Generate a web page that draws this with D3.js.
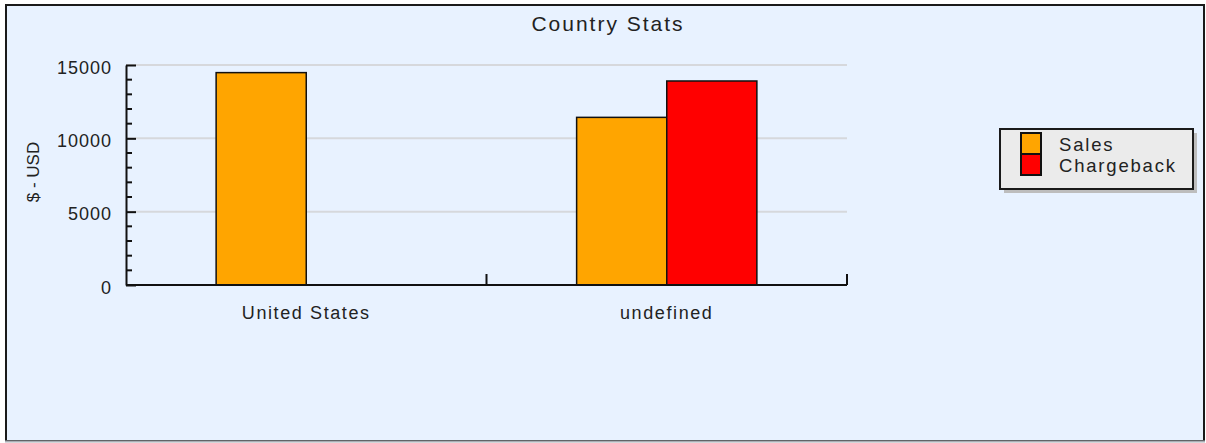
<!DOCTYPE html>
<meta charset="utf-8">
<style>
  body { margin: 0; background: #fff; }
  text { font-family: "Liberation Sans", Arial, sans-serif; fill: #222; }
</style>
<svg width="1206" height="443"></svg>
<script src="https://cdn.jsdelivr.net/npm/d3@7/dist/d3.min.js"></script>
<script>
var categories = ["United States", "undefined"];
var seriesNames = ["Sales", "Chargeback"];
var seriesColors = ["#ffa500", "#ff0000"];
var sales = [14480, 11430];
var chargeback = [0, 13910];
var yTicks = [0, 5000, 10000, 15000];

var svg = d3.select("svg");

// frame
svg.append("rect")
  .attr("x", 6).attr("y", 5).attr("width", 1198).attr("height", 436)
  .attr("fill", "#e8f2ff").attr("stroke", "#1a1a1a").attr("stroke-width", 2);
svg.append("line")
  .attr("x1", 5).attr("x2", 1205).attr("y1", 441.5).attr("y2", 441.5)
  .attr("stroke", "#a9adb4").attr("stroke-width", 2);

var margin = {left: 126, top: 65},
    width = 721, height = 220;

var g = svg.append("g").attr("transform", "translate(" + margin.left + "," + margin.top + ")");

var x = d3.scaleBand().domain(categories).range([0, width]).padding(0);
var x1 = d3.scaleBand().domain(seriesNames).range([x.bandwidth() / 4, x.bandwidth() * 3 / 4]);
var y = d3.scaleLinear().domain([0, 15000]).range([height, 0]);
var color = d3.scaleOrdinal().domain(seriesNames).range(seriesColors);

// grid
g.selectAll(".grid")
  .data(yTicks.slice(1))
  .enter().append("line")
  .attr("x1", 0).attr("x2", width)
  .attr("y1", function(d) { return y(d); })
  .attr("y2", function(d) { return y(d); })
  .attr("stroke", "#d6d8dc").attr("stroke-width", 2);

// bars
var rows = categories.map(function(c, i) {
  return {cat: c, values: [{key: "Sales", v: sales[i]}, {key: "Chargeback", v: chargeback[i]}]};
});

g.selectAll(".grp")
  .data(rows)
  .enter().append("g")
  .attr("transform", function(d) { return "translate(" + x(d.cat) + ",0)"; })
  .selectAll("rect")
  .data(function(d) { return d.values.filter(function(e) { return e.v > 0; }); })
  .enter().append("rect")
  .attr("x", function(d) { return x1(d.key); })
  .attr("width", x1.bandwidth())
  .attr("y", function(d) { return y(d.v); })
  .attr("height", function(d) { return y(0) - y(d.v); })
  .attr("fill", function(d) { return color(d.key); })
  .attr("stroke", "#111").attr("stroke-width", 1.5);

// y axis
var yAxis = g.append("g")
  .call(d3.axisLeft(y).tickValues(yTicks).tickFormat(d3.format("d"))
    .tickSizeInner(-10).tickSizeOuter(0).tickPadding(14));
yAxis.select(".domain").attr("stroke", "#111").attr("stroke-width", 2);
yAxis.selectAll(".tick line").attr("stroke", "#111").attr("stroke-width", 2);
yAxis.selectAll("text")
  .attr("dy", "0.45em")
  .style("font-size", "18px").style("letter-spacing", "1px")
  .attr("fill", "#222");

// minor ticks
g.append("g").selectAll("line")
  .data(d3.range(0, 15001, 1000).filter(function(d) { return d % 5000 !== 0; }))
  .enter().append("line")
  .attr("x1", 0).attr("x2", 6)
  .attr("y1", function(d) { return y(d); })
  .attr("y2", function(d) { return y(d); })
  .attr("stroke", "#111").attr("stroke-width", 2);

// x axis
g.append("line")
  .attr("x1", 0).attr("x2", width).attr("y1", height).attr("y2", height)
  .attr("stroke", "#111").attr("stroke-width", 2);
g.selectAll(".xtick")
  .data(categories.slice(1).concat(["end"]))
  .enter().append("line")
  .attr("x1", function(d) { return d === "end" ? width : x(d); })
  .attr("x2", function(d) { return d === "end" ? width : x(d); })
  .attr("y1", height).attr("y2", height - 11)
  .attr("stroke", "#111").attr("stroke-width", 2);
g.selectAll(".xlabel")
  .data(categories)
  .enter().append("text")
  .attr("x", function(d) { return x(d) + x.bandwidth() / 2; })
  .attr("y", 319 - margin.top)
  .attr("text-anchor", "middle")
  .style("font-size", "18px").style("letter-spacing", "1.6px")
  .text(function(d) { return d; });

// y label
svg.append("text")
  .attr("transform", "translate(39,172) rotate(-90)")
  .attr("text-anchor", "middle")
  .style("font-size", "17px")
  .text("$ - USD");

// title
svg.append("text")
  .attr("x", 608).attr("y", 31)
  .attr("text-anchor", "middle")
  .style("font-size", "21px").style("letter-spacing", "2px")
  .text("Country Stats");

// legend
var legend = svg.append("g").attr("transform", "translate(1000,129)");
legend.append("rect")
  .attr("x", 4).attr("y", 4).attr("width", 193).attr("height", 60)
  .attr("fill", "#bdbdbd");
legend.append("rect")
  .attr("x", 0).attr("y", 0).attr("width", 193).attr("height", 60)
  .attr("fill", "#ebebeb").attr("stroke", "#1a1a1a").attr("stroke-width", 2);
var item = legend.selectAll(".item")
  .data(seriesNames)
  .enter().append("g")
  .attr("transform", function(d, i) { return "translate(0," + (4 + i * 21) + ")"; });
item.append("rect")
  .attr("x", 21).attr("width", 20).attr("height", 21)
  .attr("fill", function(d) { return color(d); })
  .attr("stroke", "#111").attr("stroke-width", 2);
item.append("text")
  .attr("x", 59).attr("y", 18)
  .style("font-size", "18.5px").style("letter-spacing", "1.8px")
  .text(function(d) { return d; });
</script>
